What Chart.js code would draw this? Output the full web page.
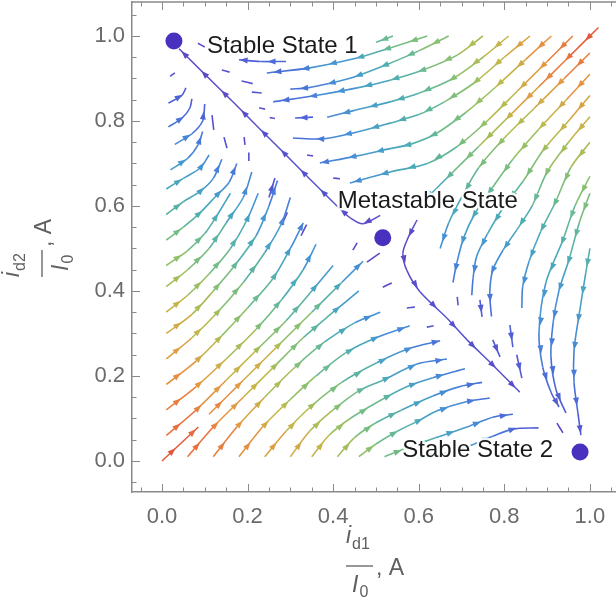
<!DOCTYPE html>
<html>
<head>
<meta charset="utf-8">
<script src="https://cdn.jsdelivr.net/npm/chart.js@4.4.1/dist/chart.umd.min.js"></script>
<style>
  body { margin: 0; background: #fff; }
  #box { width: 616px; height: 606px; position: relative; }
</style>
</head>
<body>
<div id="box"><canvas id="flujo"></canvas></div>
<script>
// tick labels
var xTicks = [0, 0.2, 0.4, 0.6, 0.8, 1.0];
var yTicks = [0, 0.2, 0.4, 0.6, 0.8, 1.0];

// fixed points
var stateNames = ["Stable State 1", "Metastable State", "Stable State 2"];
var stateX = [0.028, 0.516, 0.977];
var stateY = [0.988, 0.525, 0.021];

// streamlines, each point is [x, y, speed] (speed 0 = slow / purple, 1 = fast / red)
var separatrixUpper = [
  [[0.51, 0.578, 0.1], [0.47, 0.558, 0.06], [0.44, 0.572, 0.07], [0.409, 0.6, 0.1], [0.339, 0.67, 0.12],
   [0.28, 0.73, 0.12], [0.22, 0.79, 0.1], [0.164, 0.847, 0.08], [0.1, 0.91, 0.05], [0.04, 0.97, 0.02]]
];
var separatrixLower = [
  [[0.596, 0.567, 0.1], [0.575, 0.525, 0.06], [0.563, 0.489, 0.05], [0.572, 0.449, 0.07], [0.603, 0.398, 0.1],
   [0.666, 0.336, 0.12], [0.713, 0.285, 0.12], [0.773, 0.226, 0.1], [0.836, 0.162, 0.08]]
];
var diagonalFlow = [
  [[0.0, 0.0, 1], [0.085, 0.08, 0.93]],
  [[0.11, 0.11, 0.9], [0.19, 0.19, 0.82], [0.27, 0.27, 0.72], [0.35, 0.35, 0.6], [0.42, 0.42, 0.46], [0.47, 0.47, 0.32]],
  [[1.02, 1.02, 1], [0.95, 0.95, 0.93], [0.88, 0.88, 0.85], [0.81, 0.81, 0.76], [0.74, 0.74, 0.66], [0.67, 0.67, 0.55], [0.61, 0.61, 0.42]]
];
var leftEdgeFlow = [
  [[0.01, 0.06, 0.96], [0.08, 0.12, 0.89], [0.15, 0.19, 0.8], [0.22, 0.26, 0.7], [0.29, 0.33, 0.6], [0.35, 0.4, 0.47], [0.4, 0.46, 0.35]],
  [[0.01, 0.12, 0.93], [0.08, 0.175, 0.85], [0.15, 0.24, 0.75], [0.22, 0.31, 0.65], [0.28, 0.38, 0.55], [0.33, 0.45, 0.43], [0.36, 0.51, 0.33]],
  [[0.01, 0.18, 0.9], [0.08, 0.235, 0.8], [0.14, 0.295, 0.71], [0.2, 0.36, 0.62], [0.26, 0.43, 0.52], [0.3, 0.5, 0.4], [0.33, 0.56, 0.3]],
  [[0.01, 0.24, 0.86], [0.07, 0.29, 0.77], [0.13, 0.35, 0.69], [0.19, 0.42, 0.59], [0.24, 0.49, 0.48], [0.28, 0.56, 0.36], [0.3, 0.62, 0.25]],
  [[0.01, 0.3, 0.82], [0.07, 0.345, 0.74], [0.12, 0.4, 0.66], [0.17, 0.46, 0.57], [0.22, 0.53, 0.46], [0.25, 0.6, 0.35], [0.27, 0.66, 0.24]],
  [[0.01, 0.35, 0.79], [0.06, 0.39, 0.72], [0.11, 0.44, 0.64], [0.16, 0.5, 0.55], [0.2, 0.57, 0.44], [0.225, 0.63, 0.33]],
  [[0.01, 0.41, 0.73], [0.06, 0.45, 0.66], [0.11, 0.5, 0.58], [0.15, 0.56, 0.49], [0.19, 0.62, 0.38], [0.21, 0.68, 0.28]],
  [[0.01, 0.46, 0.7], [0.06, 0.495, 0.63], [0.1, 0.535, 0.56], [0.13, 0.58, 0.48], [0.16, 0.63, 0.38]],
  [[0.01, 0.52, 0.64], [0.05, 0.55, 0.58], [0.09, 0.585, 0.5], [0.124, 0.621, 0.42], [0.157, 0.656, 0.34], [0.175, 0.7, 0.26]],
  [[0.01, 0.58, 0.57], [0.05, 0.61, 0.5], [0.09, 0.635, 0.44], [0.12, 0.665, 0.36], [0.14, 0.71, 0.28]],
  [[0.01, 0.64, 0.5], [0.05, 0.665, 0.44], [0.09, 0.69, 0.38], [0.11, 0.72, 0.32]],
  [[0.02, 0.685, 0.45], [0.06, 0.712, 0.38], [0.085, 0.745, 0.3], [0.095, 0.775, 0.25]],
  [[0.03, 0.745, 0.38], [0.07, 0.77, 0.3], [0.095, 0.8, 0.22], [0.1, 0.84, 0.17]],
  [[0.015, 0.786, 0.3], [0.047, 0.807, 0.25], [0.065, 0.83, 0.2], [0.07, 0.852, 0.16]],
  [[0.015, 0.842, 0.24], [0.047, 0.861, 0.18], [0.056, 0.878, 0.14]],
  [[0.019, 0.905, 0.12], [0.03, 0.913, 0.1]]
];
var bottomEdgeFlow = [
  [[0.06, 0.01, 0.96], [0.12, 0.08, 0.89], [0.19, 0.15, 0.8], [0.26, 0.22, 0.7], [0.33, 0.29, 0.6], [0.4, 0.35, 0.47], [0.46, 0.4, 0.35]],
  [[0.12, 0.01, 0.93], [0.175, 0.08, 0.85], [0.24, 0.15, 0.75], [0.31, 0.22, 0.65], [0.38, 0.28, 0.55], [0.45, 0.325, 0.43], [0.51, 0.35, 0.3]],
  [[0.18, 0.01, 0.9], [0.235, 0.08, 0.8], [0.295, 0.14, 0.71], [0.36, 0.2, 0.62], [0.43, 0.255, 0.52], [0.5, 0.29, 0.41], [0.579, 0.318, 0.3]],
  [[0.24, 0.01, 0.86], [0.29, 0.07, 0.77], [0.35, 0.13, 0.69], [0.42, 0.185, 0.59], [0.502, 0.231, 0.47], [0.579, 0.265, 0.35], [0.65, 0.283, 0.24]],
  [[0.3, 0.01, 0.82], [0.345, 0.07, 0.74], [0.4, 0.12, 0.66], [0.46, 0.165, 0.57], [0.516, 0.19, 0.48], [0.596, 0.228, 0.37], [0.666, 0.24, 0.26]],
  [[0.35, 0.01, 0.79], [0.39, 0.06, 0.72], [0.44, 0.1, 0.64], [0.526, 0.151, 0.54], [0.58, 0.178, 0.45], [0.633, 0.196, 0.36], [0.708, 0.217, 0.26]],
  [[0.41, 0.01, 0.73], [0.45, 0.055, 0.66], [0.5, 0.09, 0.58], [0.56, 0.12, 0.49], [0.633, 0.153, 0.39], [0.696, 0.175, 0.3], [0.748, 0.185, 0.22]],
  [[0.46, 0.01, 0.7], [0.5, 0.04, 0.63], [0.55, 0.07, 0.55], [0.6, 0.095, 0.47], [0.643, 0.118, 0.4], [0.713, 0.14, 0.3], [0.766, 0.148, 0.22]],
  [[0.52, 0.01, 0.64], [0.57, 0.03, 0.57], [0.64, 0.055, 0.48], [0.713, 0.08, 0.38], [0.773, 0.103, 0.28], [0.82, 0.11, 0.2]],
  [[0.6, 0.008, 0.55], [0.67, 0.02, 0.46], [0.73, 0.04, 0.37], [0.773, 0.058, 0.3], [0.82, 0.075, 0.22], [0.88, 0.078, 0.14]]
];
var topEdgeFlow = [
  [[0.54, 1.0, 0.6], [0.5, 0.985, 0.55]],
  [[0.29, 0.94, 0.25], [0.23, 0.94, 0.2], [0.18, 0.944, 0.16]],
  [[0.62, 1.0, 0.66], [0.533, 0.972, 0.57], [0.456, 0.948, 0.46], [0.346, 0.925, 0.32], [0.245, 0.913, 0.2]],
  [[0.67, 1.0, 0.68], [0.6, 0.965, 0.6], [0.533, 0.936, 0.52], [0.456, 0.906, 0.42], [0.39, 0.888, 0.34], [0.34, 0.878, 0.28], [0.3, 0.875, 0.22]],
  [[0.75, 1.0, 0.74], [0.69, 0.955, 0.67], [0.61, 0.92, 0.58], [0.533, 0.896, 0.49], [0.456, 0.878, 0.42], [0.36, 0.86, 0.32], [0.26, 0.845, 0.2]],
  [[0.81, 1.0, 0.79], [0.75, 0.95, 0.72], [0.68, 0.9, 0.64], [0.6, 0.865, 0.54], [0.533, 0.845, 0.47], [0.45, 0.825, 0.4], [0.386, 0.809, 0.32]],
  [[0.86, 1.0, 0.84], [0.8, 0.95, 0.77], [0.73, 0.89, 0.68], [0.66, 0.845, 0.6], [0.6, 0.815, 0.54], [0.533, 0.795, 0.47], [0.456, 0.774, 0.4], [0.376, 0.758, 0.3], [0.306, 0.76, 0.2]],
  [[0.91, 1.0, 0.89], [0.85, 0.945, 0.8], [0.78, 0.88, 0.72], [0.71, 0.82, 0.64], [0.64, 0.77, 0.56], [0.58, 0.745, 0.5], [0.533, 0.735, 0.45], [0.456, 0.718, 0.38], [0.369, 0.701, 0.28]],
  [[0.96, 1.0, 0.94], [0.9, 0.94, 0.85], [0.83, 0.87, 0.76], [0.76, 0.8, 0.68], [0.69, 0.74, 0.6], [0.62, 0.7, 0.52], [0.533, 0.68, 0.44], [0.439, 0.654, 0.34]]
];
var rightEdgeFlow = [
  [[1.0, 0.5, 0.55], [0.99, 0.44, 0.49], [0.974, 0.339, 0.4], [0.963, 0.261, 0.34], [0.963, 0.184, 0.27], [0.972, 0.113, 0.2], [0.979, 0.061, 0.12]],
  [[1.0, 0.63, 0.66], [0.975, 0.56, 0.58], [0.951, 0.473, 0.49], [0.928, 0.402, 0.4], [0.914, 0.325, 0.33], [0.909, 0.245, 0.26], [0.921, 0.167, 0.2], [0.944, 0.113, 0.14]],
  [[1.0, 0.67, 0.68], [0.965, 0.6, 0.6], [0.937, 0.52, 0.52], [0.897, 0.419, 0.42], [0.881, 0.301, 0.34], [0.89, 0.22, 0.27], [0.91, 0.16, 0.2], [0.928, 0.127, 0.14]],
  [[1.0, 0.75, 0.74], [0.955, 0.69, 0.67], [0.92, 0.61, 0.58], [0.885, 0.54, 0.49], [0.858, 0.47, 0.42], [0.843, 0.41, 0.35], [0.841, 0.36, 0.28]],
  [[1.0, 0.81, 0.79], [0.95, 0.75, 0.72], [0.9, 0.68, 0.64], [0.865, 0.6, 0.54], [0.83, 0.545, 0.47], [0.797, 0.496, 0.4], [0.773, 0.449, 0.34], [0.766, 0.395, 0.28], [0.77, 0.34, 0.22]],
  [[1.0, 0.86, 0.84], [0.95, 0.8, 0.77], [0.89, 0.73, 0.68], [0.845, 0.66, 0.6], [0.8, 0.6, 0.52], [0.76, 0.533, 0.44], [0.735, 0.48, 0.36], [0.727, 0.43, 0.3], [0.724, 0.39, 0.24]],
  [[1.0, 0.91, 0.89], [0.945, 0.85, 0.8], [0.88, 0.78, 0.72], [0.82, 0.71, 0.64], [0.77, 0.64, 0.56], [0.73, 0.58, 0.48], [0.705, 0.525, 0.4], [0.689, 0.466, 0.32], [0.68, 0.42, 0.25]],
  [[1.0, 0.96, 0.94], [0.94, 0.9, 0.85], [0.87, 0.83, 0.76], [0.8, 0.76, 0.68], [0.74, 0.69, 0.6], [0.7, 0.62, 0.52], [0.67, 0.56, 0.42], [0.65, 0.5, 0.33]]
];
var slowDashes = [
  [[0.121, 0.779, 0.12], [0.117, 0.814, 0.1]],
  [[0.152, 0.736, 0.14], [0.145, 0.762, 0.12]],
  [[0.194, 0.744, 0.08], [0.192, 0.762, 0.07]],
  [[0.203, 0.706, 0.1], [0.203, 0.726, 0.09]],
  [[0.25, 0.62, 0.15], [0.264, 0.666, 0.12]],
  [[0.28, 0.555, 0.14], [0.293, 0.585, 0.12]],
  [[0.325, 0.53, 0.12], [0.338, 0.556, 0.1]],
  [[0.446, 0.496, 0.06], [0.456, 0.513, 0.05]],
  [[0.479, 0.468, 0.08], [0.509, 0.489, 0.05]],
  [[0.158, 0.915, 0.12], [0.14, 0.92, 0.1]],
  [[0.212, 0.888, 0.14], [0.186, 0.894, 0.12]],
  [[0.233, 0.866, 0.14], [0.21, 0.868, 0.12]],
  [[0.241, 0.828, 0.12], [0.227, 0.831, 0.1]],
  [[0.264, 0.806, 0.12], [0.252, 0.808, 0.1]],
  [[0.353, 0.809, 0.22], [0.311, 0.807, 0.18]],
  [[0.353, 0.718, 0.1], [0.339, 0.72, 0.08]],
  [[0.416, 0.664, 0.1], [0.4, 0.666, 0.08]],
  [[0.1, 0.974, 0.1], [0.084, 0.983, 0.08]],
  [[0.69, 0.386, 0.16], [0.692, 0.366, 0.14]],
  [[0.743, 0.379, 0.18], [0.748, 0.339, 0.15]],
  [[0.813, 0.32, 0.2], [0.82, 0.268, 0.16]],
  [[0.773, 0.285, 0.16], [0.79, 0.245, 0.13]],
  [[0.829, 0.25, 0.18], [0.841, 0.195, 0.14]],
  [[0.923, 0.089, 0.1], [0.937, 0.066, 0.08]],
  [[0.516, 0.409, 0.08], [0.537, 0.419, 0.06]],
  [[0.572, 0.36, 0.12], [0.591, 0.362, 0.1]],
  [[0.619, 0.315, 0.14], [0.635, 0.318, 0.12]]
];

// colour scale for speed
var paleta = [
  [0, [96, 66, 194]], [0.12, [86, 82, 207]], [0.25, [74, 112, 218]], [0.38, [70, 148, 212]],
  [0.48, [74, 170, 186]], [0.58, [106, 186, 146]], [0.66, [142, 192, 106]], [0.74, [192, 186, 74]],
  [0.84, [228, 152, 68]], [0.93, [233, 112, 62]], [1, [226, 74, 60]]
];
function colorVelocidad(s) {
  s = Math.max(0, Math.min(1, s));
  for (var i = 1; i < paleta.length; i++) {
    if (s <= paleta[i][0]) {
      var a = paleta[i - 1], b = paleta[i];
      var t = (s - a[0]) / (b[0] - a[0]);
      var r = Math.round(a[1][0] + (b[1][0] - a[1][0]) * t);
      var g = Math.round(a[1][1] + (b[1][1] - a[1][1]) * t);
      var bl = Math.round(a[1][2] + (b[1][2] - a[1][2]) * t);
      return "rgb(" + r + "," + g + "," + bl + ")";
    }
  }
  return "rgb(226,74,60)";
}

var datasets = [];
function agregarLineas(lineas, ancho) {
  lineas.forEach(function (linea) {
    var lv = linea.map(function (p) { return p[2]; });
    datasets.push({
      data: linea.map(function (p) { return { x: p[0], y: p[1] }; }),
      levels: lv,
      showLine: true,
      pointRadius: 0,
      pointHoverRadius: 0,
      borderWidth: ancho,
      tension: 0.3,
      fill: false,
      borderColor: colorVelocidad(lv[0]),
      segment: {
        borderColor: function (c) { return colorVelocidad((lv[c.p0DataIndex] + lv[c.p1DataIndex]) / 2); }
      },
      order: 2
    });
  });
}
agregarLineas(diagonalFlow, 1.6);
agregarLineas(leftEdgeFlow, 1.6);
agregarLineas(bottomEdgeFlow, 1.6);
agregarLineas(topEdgeFlow, 1.6);
agregarLineas(rightEdgeFlow, 1.6);
agregarLineas(slowDashes, 1.6);
agregarLineas(separatrixUpper, 1.5);
agregarLineas(separatrixLower, 1.5);

datasets.push({
  data: stateX.map(function (x, i) { return { x: x, y: stateY[i] }; }),
  showLine: false,
  pointRadius: 8.5,
  pointHoverRadius: 8.5,
  pointBackgroundColor: "#4a30bf",
  pointBorderWidth: 0,
  order: 0
});

// arrowheads along each streamline
var flechas = {
  id: "flechas",
  afterDatasetDraw: function (chart, args) {
    var ds = chart.data.datasets[args.index];
    if (!ds.levels) return;
    var pts = args.meta.data;
    var ctx = chart.ctx;
    var segs = [], total = 0;
    for (var i = 1; i < pts.length; i++) {
      var dx = pts[i].x - pts[i - 1].x, dy = pts[i].y - pts[i - 1].y;
      var len = Math.sqrt(dx * dx + dy * dy);
      segs.push({ i: i, len: len, dx: dx / len, dy: dy / len, start: total });
      total += len;
    }
    if (total < 16) return;
    var area = chart.chartArea;
    ctx.save();
    ctx.beginPath();
    ctx.rect(area.left, area.top, area.right - area.left, area.bottom - area.top);
    ctx.clip();
    for (var d = Math.min(14, total / 2); d < total - 3; d += 28) {
      var s = segs[0];
      for (var k = 0; k < segs.length; k++) {
        if (d >= segs[k].start && d <= segs[k].start + segs[k].len) { s = segs[k]; break; }
      }
      var t = (d - s.start) / s.len;
      var p0 = pts[s.i - 1], p1 = pts[s.i];
      var x = p0.x + (p1.x - p0.x) * t, y = p0.y + (p1.y - p0.y) * t;
      var lv = ds.levels[s.i - 1] + (ds.levels[s.i] - ds.levels[s.i - 1]) * t;
      ctx.fillStyle = colorVelocidad(lv);
      ctx.beginPath();
      ctx.moveTo(x + s.dx * 4.5, y + s.dy * 4.5);
      ctx.lineTo(x - s.dx * 3.5 - s.dy * 3, y - s.dy * 3.5 + s.dx * 3);
      ctx.lineTo(x - s.dx * 3.5 + s.dy * 3, y - s.dy * 3.5 - s.dx * 3);
      ctx.closePath();
      ctx.fill();
    }
    ctx.restore();
  }
};

// frame, inner ticks, state labels and axis titles
var marco = {
  id: "marco",
  afterDraw: function (chart) {
    var ctx = chart.ctx, a = chart.chartArea;
    var sx = chart.scales.x, sy = chart.scales.y;
    ctx.save();
    ctx.strokeStyle = "#8a8a8a";
    ctx.lineWidth = 1.5;
    ctx.beginPath();
    ctx.moveTo(a.left, a.top);
    ctx.lineTo(a.right, a.top);
    ctx.stroke();
    ctx.lineWidth = 1;
    for (var m = -1; m <= 21; m++) {
      var v = m * 0.05;
      var largo = (m % 4 === 0) ? 8 : 4.5;
      var px = Math.round(sx.getPixelForValue(v)) + 0.5;
      var py = Math.round(sy.getPixelForValue(v)) + 0.5;
      ctx.beginPath();
      if (px > a.left && px < a.right) {
        ctx.moveTo(px, a.bottom); ctx.lineTo(px, a.bottom - largo);
        ctx.moveTo(px, a.top); ctx.lineTo(px, a.top + largo);
      }
      if (py > a.top && py < a.bottom) {
        ctx.moveTo(a.left, py); ctx.lineTo(a.left + largo, py);
      }
      ctx.stroke();
    }

    // state labels
    ctx.font = "24px 'Liberation Sans', Arial, sans-serif";
    ctx.textBaseline = "alphabetic";
    ctx.lineJoin = "round";
    var despl = [[33, 12, "left"], [-45, -30, "left"], [-27, 5, "right"]];
    stateNames.forEach(function (txt, i) {
      var x = sx.getPixelForValue(stateX[i]) + despl[i][0];
      var y = sy.getPixelForValue(stateY[i]) + despl[i][1];
      ctx.textAlign = despl[i][2];
      ctx.strokeStyle = "rgba(255,255,255,0.9)";
      ctx.lineWidth = 5;
      ctx.strokeText(txt, x, y);
      ctx.fillStyle = "#1b1b1b";
      ctx.fillText(txt, x, y);
    });

    // axis titles as fractions
    function fraccion(cx, cy, ang, sub) {
      ctx.save();
      ctx.translate(cx, cy);
      ctx.rotate(ang);
      ctx.fillStyle = "#5f5f5f";
      ctx.strokeStyle = "#5f5f5f";
      ctx.textAlign = "left";
      ctx.textBaseline = "alphabetic";
      ctx.font = "italic 23px 'Liberation Sans', Arial, sans-serif";
      ctx.fillText("i", -14, -23);
      var wi = ctx.measureText("i").width;
      ctx.font = "16px 'Liberation Sans', Arial, sans-serif";
      ctx.fillText(sub, -14 + wi + 1, -17);
      ctx.lineWidth = 1.3;
      ctx.beginPath();
      ctx.moveTo(-14, 0); ctx.lineTo(13, 0);
      ctx.stroke();
      ctx.font = "italic 23px 'Liberation Sans', Arial, sans-serif";
      ctx.fillText("I", -8, 26);
      var wI = ctx.measureText("I").width;
      ctx.font = "16px 'Liberation Sans', Arial, sans-serif";
      ctx.fillText("0", -8 + wI + 1, 31);
      ctx.font = "23px 'Liberation Sans', Arial, sans-serif";
      ctx.fillText(", A", 16, 9);
      ctx.restore();
    }
    fraccion(360, 566, 0, "d1");
    fraccion(42, 263, -Math.PI / 2, "d2");
    ctx.restore();
  }
};

Chart.defaults.font.family = "'Liberation Sans', Arial, sans-serif";

function sinRelleno(s) {
  s.paddingTop = 0;
  s.paddingBottom = 0;
  s.paddingLeft = 0;
  s.paddingRight = 0;
}

var ctx = document.getElementById("flujo").getContext("2d");
var myChart = new Chart(ctx, {
  type: "line",
  data: { datasets: datasets },
  options: {
    responsive: true,
    maintainAspectRatio: false,
    animation: false,
    events: [],
    layout: { autoPadding: false, padding: { left: 0, right: 0, top: 2, bottom: 0 } },
    plugins: { legend: { display: false }, tooltip: { enabled: false } },
    scales: {
      x: {
        type: "linear",
        min: -0.07,
        max: 1.061,
        grid: { display: false, drawTicks: false },
        border: { display: true, color: "#8a8a8a", width: 1.5 },
        afterBuildTicks: function (s) { s.ticks = xTicks.map(function (v) { return { value: v }; }); },
        afterFit: function (s) { s.height = 114; sinRelleno(s); },
        ticks: {
          padding: 12,
          color: "#6b6b6b",
          font: { size: 22 },
          maxRotation: 0,
          autoSkip: false,
          callback: function (v) { return Number(v).toFixed(1); }
        }
      },
      y: {
        type: "linear",
        min: -0.073,
        max: 1.08,
        grid: { display: false, drawTicks: false },
        border: { display: true, color: "#8a8a8a", width: 1.5 },
        afterBuildTicks: function (s) { s.ticks = yTicks.map(function (v) { return { value: v }; }); },
        afterFit: function (s) { s.width = 132; sinRelleno(s); },
        ticks: {
          padding: 7,
          color: "#6b6b6b",
          font: { size: 22 },
          autoSkip: false,
          callback: function (v) { return Number(v).toFixed(1); }
        }
      }
    }
  },
  plugins: [flechas, marco]
});
</script>
</body>
</html>
